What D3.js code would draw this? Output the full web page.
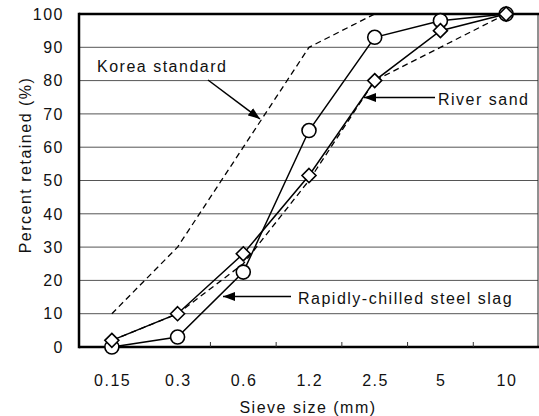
<!DOCTYPE html>
<html>
<head>
<meta charset="utf-8">
<script src="https://cdn.jsdelivr.net/npm/d3@7"></script>
<style>
body { margin: 0; background: #fff; }
text { font-family: "Liberation Sans", Arial, sans-serif; font-size: 16px; letter-spacing: 1.5px; fill: #111; }
</style>
</head>
<body>
<script>
// sieve sizes (mm) and percent retained
var sizes = ["0.15", "0.3", "0.6", "1.2", "2.5", "5", "10"];
var steelSlag = [0, 3, 22.5, 65, 93, 98, 100];
var riverSand = [2, 10, 28, 51.5, 80, 95, 100];
var koreaUpper = [10, 30, 60, 90, 100, 100, 100];
var koreaLower = [2, 10, 25, 50, 80, 90, 100];
var yTicks = [0, 10, 20, 30, 40, 50, 60, 70, 80, 90, 100];

var W = 539, H = 416;
var plotLeft = 79, plotRight = 539, plotTop = 14, plotBottom = 347;

var svg = d3.select("body").append("svg")
    .attr("width", W)
    .attr("height", H);

var x = d3.scaleBand()
    .domain(sizes)
    .range([plotLeft, plotRight])
    .padding(0);

var y = d3.scaleLinear()
    .domain([0, 100])
    .range([plotBottom, plotTop]);

function cx(d, i) { return x(sizes[i]) + x.bandwidth() / 2; }

// grid lines
svg.append("g").selectAll("line")
    .data(yTicks.filter(function(v) { return v > 0 && v < 100; }))
    .enter().append("line")
    .attr("x1", plotLeft).attr("x2", plotRight - 1)
    .attr("y1", function(d) { return y(d); })
    .attr("y2", function(d) { return y(d); })
    .attr("stroke", "#555")
    .attr("stroke-width", 1);

// frame
svg.append("line").attr("x1", plotRight - 1).attr("x2", plotRight - 1).attr("y1", plotTop).attr("y2", plotBottom)
    .attr("stroke", "#222").attr("stroke-width", 1);
svg.append("line").attr("x1", plotLeft).attr("x2", plotRight).attr("y1", plotTop).attr("y2", plotTop)
    .attr("stroke", "#000").attr("stroke-width", 2.5);
svg.append("line").attr("x1", plotLeft).attr("x2", plotRight).attr("y1", plotBottom).attr("y2", plotBottom)
    .attr("stroke", "#000").attr("stroke-width", 2.5);
svg.append("line").attr("x1", plotLeft).attr("x2", plotLeft).attr("y1", plotTop - 1.2).attr("y2", plotBottom + 1.2)
    .attr("stroke", "#000").attr("stroke-width", 2.5);

// small tick marks on the bottom axis between categories
svg.append("g").selectAll("line")
    .data(sizes.slice(2))
    .enter().append("line")
    .attr("x1", function(d) { return x(d); })
    .attr("x2", function(d) { return x(d); })
    .attr("y1", plotBottom)
    .attr("y2", plotBottom - 5)
    .attr("stroke", "#333")
    .attr("stroke-width", 1);

// y tick labels
svg.append("g").selectAll("text")
    .data(yTicks)
    .enter().append("text")
    .attr("x", 64)
    .attr("y", function(d) { return y(d); })
    .attr("dy", "0.36em")
    .attr("text-anchor", "end")
    .text(function(d) { return d; });

// x tick labels
svg.append("g").selectAll("text")
    .data(sizes)
    .enter().append("text")
    .attr("x", function(d) { return x(d) + x.bandwidth() / 2 + 0.8; })
    .attr("y", 386)
    .attr("text-anchor", "middle")
    .text(function(d) { return d; });

// axis titles
svg.append("text")
    .attr("x", 308)
    .attr("y", 413)
    .attr("text-anchor", "middle")
    .text("Sieve size (mm)");

svg.append("text")
    .attr("transform", "translate(31,165) rotate(-90)")
    .attr("text-anchor", "middle")
    .text("Percent retained (%)");

var line = d3.line()
    .x(cx)
    .y(function(d) { return y(d); });

// Korea standard limits
[koreaUpper, koreaLower].forEach(function(s) {
    svg.append("path")
        .datum(s)
        .attr("d", line)
        .attr("fill", "none")
        .attr("stroke", "#000")
        .attr("stroke-width", 1.3)
        .attr("stroke-dasharray", "6,4");
});

// measured curves
[steelSlag, riverSand].forEach(function(s) {
    svg.append("path")
        .datum(s)
        .attr("d", line)
        .attr("fill", "none")
        .attr("stroke", "#000")
        .attr("stroke-width", 1.5);
});

svg.append("g").selectAll("circle")
    .data(steelSlag)
    .enter().append("circle")
    .attr("cx", cx)
    .attr("cy", function(d) { return y(d); })
    .attr("r", 7)
    .attr("fill", "#fff")
    .attr("stroke", "#000")
    .attr("stroke-width", 1.6);

svg.append("g").selectAll("path")
    .data(riverSand)
    .enter().append("path")
    .attr("d", function(d, i) {
        var px = cx(d, i), py = y(d), r = 7;
        return "M" + px + "," + (py - r) + "L" + (px + r) + "," + py +
            "L" + px + "," + (py + r) + "L" + (px - r) + "," + py + "Z";
    })
    .attr("fill", "#fff")
    .attr("stroke", "#000")
    .attr("stroke-width", 1.6);

// annotations with arrows
svg.append("defs").append("marker")
    .attr("id", "head")
    .attr("viewBox", "0 0 12 9")
    .attr("refX", 12).attr("refY", 4.5)
    .attr("markerWidth", 12).attr("markerHeight", 9)
    .attr("markerUnits", "userSpaceOnUse")
    .attr("orient", "auto")
    .append("path")
    .attr("d", "M0,0L12,4.5L0,9Z")
    .attr("fill", "#000");

var notes = [
    {text: "Korea standard", tx: 97, ty: 72, x1: 208, y1: 80, x2: 260, y2: 119},
    {text: "River sand", tx: 438, ty: 105, x1: 435, y1: 97.5, x2: 364, y2: 97.5},
    {text: "Rapidly-chilled steel slag", tx: 298, ty: 304, x1: 291, y1: 296.5, x2: 223, y2: 296.5}
];

notes.forEach(function(n) {
    svg.append("line")
        .attr("x1", n.x1).attr("y1", n.y1)
        .attr("x2", n.x2).attr("y2", n.y2)
        .attr("stroke", "#000")
        .attr("stroke-width", 1.5)
        .attr("marker-end", "url(#head)");
    svg.append("text")
        .attr("x", n.tx)
        .attr("y", n.ty)
        .text(n.text);
});
</script>
</body>
</html>
